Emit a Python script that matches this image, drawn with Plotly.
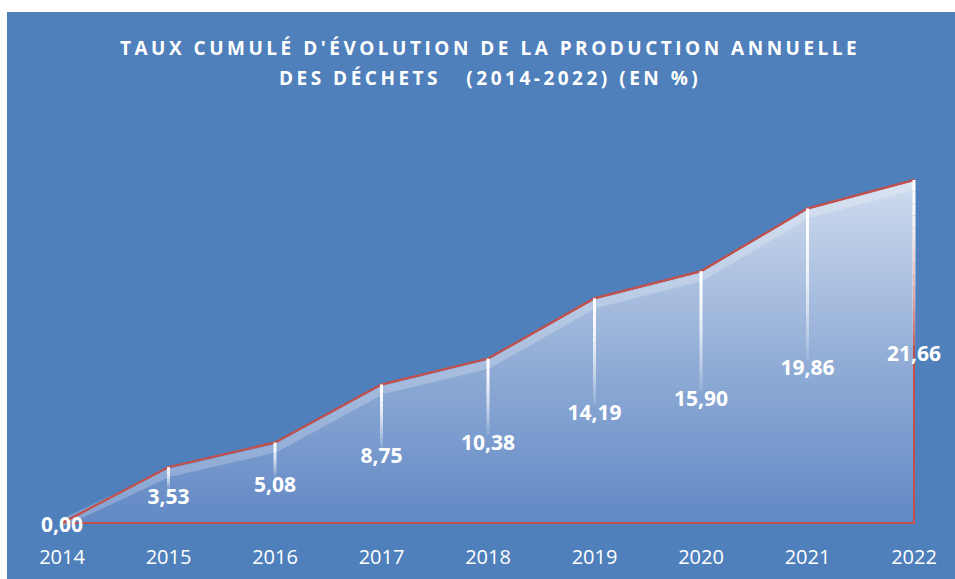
import plotly.graph_objects as go

# ---- data ----
years = [2014, 2015, 2016, 2017, 2018, 2019, 2020, 2021, 2022]
values = [0.00, 3.53, 5.08, 8.75, 10.38, 14.19, 15.90, 19.86, 21.66]
tick_labels = [str(y) for y in years]
title_line1 = "TAUX CUMULÉ D'ÉVOLUTION DE LA PRODUCTION ANNUELLE"
title_line2 = "DES DÉCHETS\u00a0\u00a0\u00a0(2014-2022) (EN %)"

# ---- geometry / style ----
W, H = 955, 579
BLUE = "#4f80bb"
RED = "#c0504d"
FONT = "Open Sans"

mb = 50                      # bottom margin
ph = H - mb                  # plot height in px
# pixel anchors: first year at 62, last at 914; 0 at 523, max at 180
px_first, px_last = 62, 914
px_zero, px_max = 523, 180
ppx = (px_last - px_first) / (years[-1] - years[0])
x0 = years[0] - px_first / ppx
x1 = years[-1] + (W - px_last) / ppx
vmax = max(values)
ppy = (px_zero - px_max) / vmax
y1 = px_zero / ppy
y0 = y1 - ph / ppy

fig = go.Figure()

# area with gradient, outlined in red (closed polygon)
fig.add_trace(go.Scatter(
    x=years + [years[-1], years[0]],
    y=values + [0, 0],
    mode="lines",
    fill="toself",
    fillgradient=dict(type="vertical",
                      colorscale=[[0, "rgb(98,137,197)"], [0.5, "rgb(148,175,215)"], [1, "rgb(208,220,239)"]],
                      start=0, stop=vmax),
    line=dict(color=RED, width=2),
    hoverinfo="skip", showlegend=False,
))

# light sheen band under the top line
off = 6 / ppy
fig.add_trace(go.Scatter(
    x=years, y=[max(v - off, 0) for v in values], mode="lines",
    line=dict(color="rgba(255,255,255,0.22)", width=8),
    hoverinfo="skip", showlegend=False,
))

# top red line again (above sheen)
fig.add_trace(go.Scatter(
    x=years, y=values, mode="lines",
    line=dict(color=RED, width=2),
    hoverinfo="skip", showlegend=False,
))

# label positions
lab_y = [v / 2 - 0.25 for v in values]
drop_end = [ly + 0.65 for ly in lab_y]

# fading white drop lines (split into segments with decreasing opacity)
n = 14
for i in range(n):
    xs, ys = [], []
    for x, v, e in zip(years, values, drop_end):
        if v <= e:
            continue
        a = v - (v - e) * i / n
        b = v - (v - e) * (i + 1) / n
        xs += [x, x, None]
        ys += [a, b, None]
    alpha = 1.0 - 0.85 * (i / (n - 1)) ** 1.6
    fig.add_trace(go.Scatter(
        x=xs, y=ys, mode="lines",
        line=dict(color=f"rgba(255,255,255,{alpha:.3f})", width=3),
        hoverinfo="skip", showlegend=False,
    ))

# data labels
fig.add_trace(go.Scatter(
    x=years, y=lab_y, mode="text",
    text=[f"{v:.2f}".replace(".", ",") for v in values],
    textposition="middle center",
    textfont=dict(family=FONT, size=21, color="white", weight="bold"),
    cliponaxis=False, hoverinfo="skip", showlegend=False,
))

SP = '<span style="letter-spacing:3.5px">{}</span>'
fig.update_layout(
    width=W, height=H,
    margin=dict(l=0, r=0, t=0, b=mb),
    paper_bgcolor="white",
    plot_bgcolor="rgba(0,0,0,0)",
    showlegend=False,
    xaxis=dict(range=[x0, x1], tickvals=years, ticktext=tick_labels,
               showgrid=False, zeroline=False, showline=False, ticks="",
               tickfont=dict(family=FONT, size=20, color="white"),
               ticklabelstandoff=14, fixedrange=True),
    yaxis=dict(range=[y0, y1], showgrid=False, zeroline=False, showline=False,
               showticklabels=False, ticks="", fixedrange=True),
    shapes=[dict(type="rect", xref="paper", yref="paper",
                 x0=7 / W, x1=1.0, y0=-mb / ph, y1=1 - 12 / ph,
                 fillcolor=BLUE, line=dict(width=0), layer="below")],
    annotations=[
        dict(text=SP.format(title_line1), xref="paper", yref="paper",
             x=490 / W, y=1 - 48 / ph,
             xanchor="center", yanchor="middle", showarrow=False,
             font=dict(family=FONT, size=19, color="white", weight="bold")),
        dict(text=SP.format(title_line2), xref="paper", yref="paper",
             x=490 / W, y=1 - 78 / ph,
             xanchor="center", yanchor="middle", showarrow=False,
             font=dict(family=FONT, size=19, color="white", weight="bold")),
    ],
)

fig.write_html(
    "out.html",
    config={"displayModeBar": False},
    post_script="document.body.style.margin='0';document.body.style.overflow='hidden';",
)
